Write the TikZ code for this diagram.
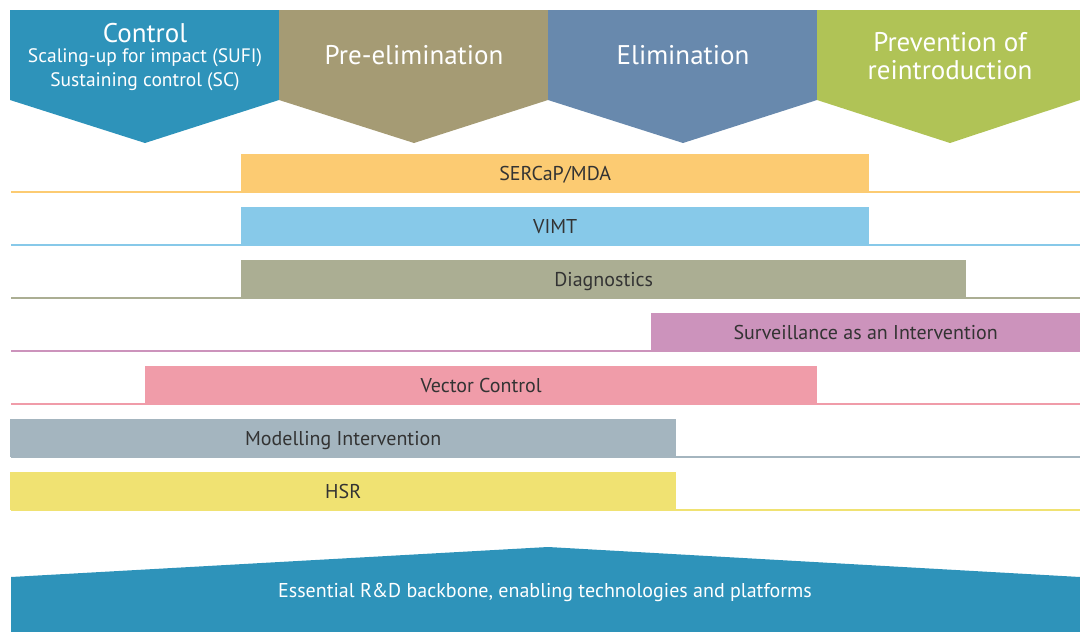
\documentclass[tikz,border=0pt]{standalone}
\usepackage{fontspec}
\setmainfont{PT Sans}
\definecolor{ctrlblue}{HTML}{2E93BA}
\definecolor{preelim}{HTML}{A59B74}
\definecolor{elim}{HTML}{6889AD}
\definecolor{prevent}{HTML}{B0C356}
\definecolor{sercapcol}{HTML}{FCCB72}
\definecolor{vimtcol}{HTML}{87C9E9}
\definecolor{diagcol}{HTML}{ABAE93}
\definecolor{survcol}{HTML}{CC93BC}
\definecolor{vectcol}{HTML}{F09CA9}
\definecolor{modcol}{HTML}{A4B5BF}
\definecolor{hsrcol}{HTML}{F0E272}
\begin{document}
\begin{tikzpicture}[x=1pt,y=-1pt,
  phase/.style={text=white, align=center, font=\fontsize{27}{28}\selectfont},
  phasesub/.style={text=white, align=center, font=\fontsize{19.5}{24}\selectfont},
  bar/.style={anchor=north west, minimum height=38pt, inner sep=0pt, text=black!80, font=\fontsize{20}{20}\selectfont, text height=16pt, text depth=2pt},
  base/.style={line width=2pt}]
\useasboundingbox (0,0) rectangle (1080,632);
% phases
\fill[ctrlblue] (10,10) -- (279,10) -- (279,100) -- (145,143) -- (10,100) -- cycle;
\fill[preelim] (279,10) -- (548,10) -- (548,100) -- (414,143) -- (279,100) -- cycle;
\fill[elim] (548,10) -- (817,10) -- (817,100) -- (683,143) -- (548,100) -- cycle;
\fill[prevent] (817,10) -- (1080,10) -- (1080,100) -- (950,143) -- (817,100) -- cycle;
\node[phase] (control) at (145,33) {Control};
\node[phasesub] (controlsub) at (145,70) {Scaling-up for impact (SUFI)\\Sustaining control (SC)};
\node[phase] (preelim) at (414,55) {Pre-elimination};
\node[phase] (elim) at (683,55) {Elimination};
\node[phase] (prevent) at (950,56) {Prevention of\\reintroduction};
% base lines
\coordinate (sa) at (11,192); \coordinate (sb) at (1080,192);
\coordinate (va) at (11,245); \coordinate (vb) at (1080,245);
\coordinate (da) at (11,298); \coordinate (db) at (1080,298);
\coordinate (ua) at (11,351); \coordinate (ub) at (1080,351);
\coordinate (ca) at (11,404); \coordinate (cb) at (1080,404);
\coordinate (ma) at (11,457); \coordinate (mb) at (1080,457);
\coordinate (ha) at (11,510); \coordinate (hb) at (1080,510);
\draw[base, sercapcol] (sa) -- (sb);
\draw[base, vimtcol] (va) -- (vb);
\draw[base, diagcol] (da) -- (db);
\draw[base, survcol] (ua) -- (ub);
\draw[base, vectcol] (ca) -- (cb);
\draw[base, modcol] (ma) -- (mb);
\draw[base, hsrcol] (ha) -- (hb);
% bars
\node[bar, fill=sercapcol, minimum width=628pt] (sercap) at (241,154) {SERCaP/MDA};
\node[bar, fill=vimtcol, minimum width=628pt] (vimt) at (241,207) {VIMT};
\node[bar, fill=diagcol, minimum width=725pt] (diag) at (241,260) {Diagnostics};
\node[bar, fill=survcol, minimum width=429pt] (surv) at (651,313) {Surveillance as an Intervention};
\node[bar, fill=vectcol, minimum width=672pt] (vector) at (145,366) {Vector Control};
\node[bar, fill=modcol, minimum width=666pt] (model) at (10,419) {Modelling Intervention};
\node[bar, fill=hsrcol, minimum width=666pt] (hsr) at (10,472) {HSR};
% backbone
\fill[ctrlblue] (11,632) -- (11,577) -- (548,547) -- (1080,577) -- (1080,632) -- cycle;
\node[text=white, font=\fontsize{20}{20}\selectfont] (backbone) at (545,592) {Essential R\&D backbone, enabling technologies and platforms};
\end{tikzpicture}
\end{document}
